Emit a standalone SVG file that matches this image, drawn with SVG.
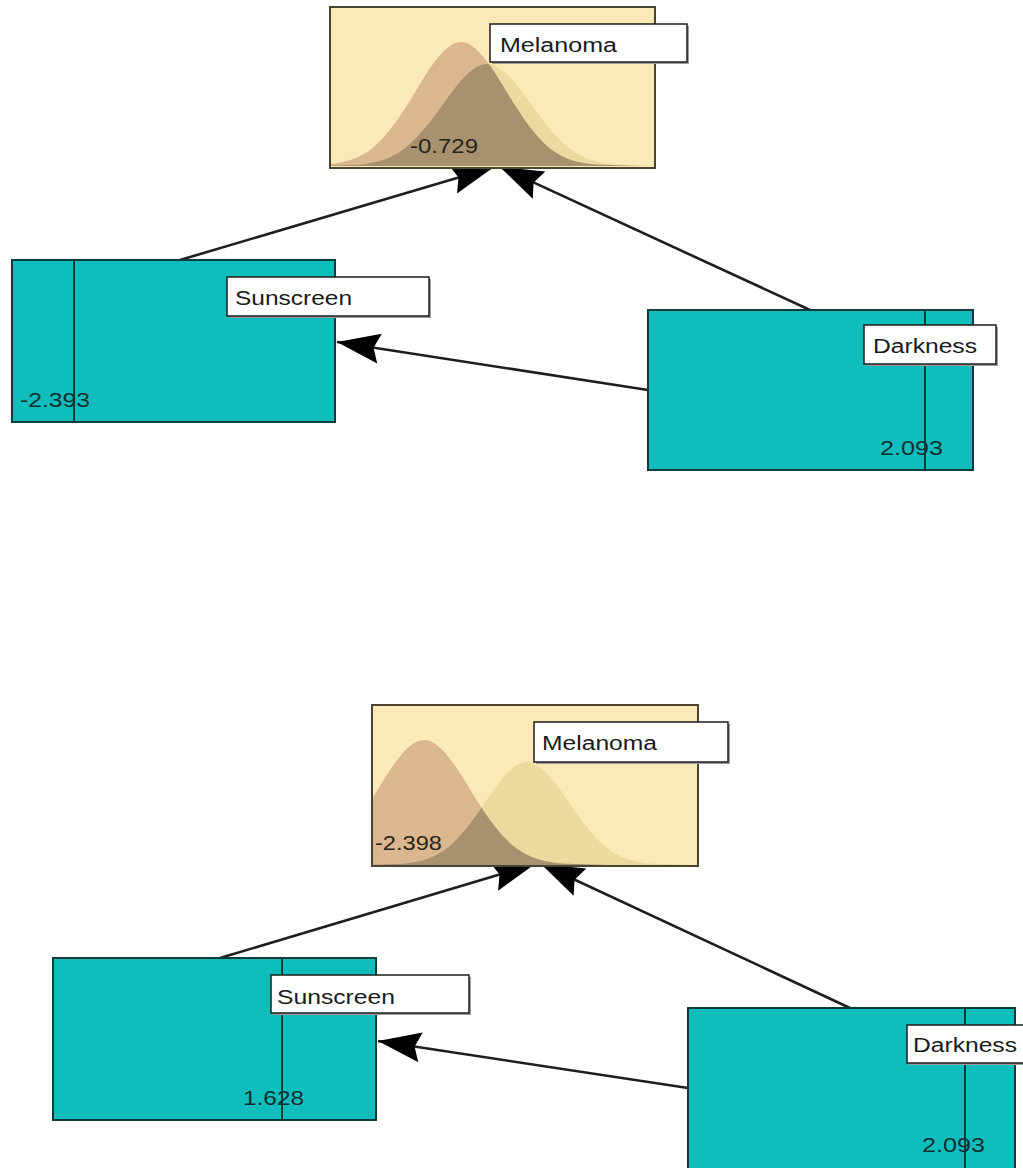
<svg xmlns="http://www.w3.org/2000/svg" xmlns:xlink="http://www.w3.org/1999/xlink" width="1023" height="1168" viewBox="0 0 1023 1168">
  <style>
    .teal { fill: #0fbdbd; stroke: #0e3c3c; stroke-width: 2; }
    .mel { fill: #fbe9b6; stroke: #4a4433; stroke-width: 2; }
    .cursor { stroke: #0b3c3c; stroke-width: 2; }
    .lab { fill: #ffffff; stroke: #1c1c1c; stroke-width: 1.5; }
    .shadow { fill: #9d9d9d; }
    .name { font-family: "Liberation Sans", Arial, sans-serif; font-size: 20px; fill: #1a1a1a; }
    .val { font-family: "Liberation Sans", Arial, sans-serif; font-size: 20px; fill: #0c3030; }
    .valm { font-family: "Liberation Sans", Arial, sans-serif; font-size: 20px; fill: #2a2418; }
    .edge { fill: none; stroke: #1e1e1e; stroke-width: 2.6; marker-end: url(#head); }
    .tan { fill: #dbb78f; }
    .pale { fill: #ecd9a0; }
    .dark { fill: #a8916f; }
  </style>
  <defs>
    <!-- unit normal density: x in sigmas, y = exp(-x^2/2) -->
    <path id="bell" d="M -4 0 L -3 0.0111 C -2.667 0.0222 -2.333 0.0451 -2 0.1353 C -1.667 0.2255 -1.333 0.4043 -1 0.6065 C -0.667 0.8087 -0.333 1 0 1 C 0.333 1 0.667 0.8087 1 0.6065 C 1.333 0.4043 1.667 0.2255 2 0.1353 C 2.333 0.0451 2.667 0.0222 3 0.0111 L 4 0 Z"/>
    <marker id="head" viewBox="-46 -17 48 34" refX="0" refY="0" markerWidth="48" markerHeight="34" markerUnits="userSpaceOnUse" orient="auto">
      <path d="M 0 0 L -43 -15 L -37 0 L -43 15 Z" fill="#000"/>
    </marker>
    <clipPath id="boxTop"><rect x="331" y="8" width="323" height="159"/></clipPath>
    <clipPath id="boxBot"><rect x="373" y="706" width="324" height="159"/></clipPath>
    <clipPath id="priorTop"><use xlink:href="#bell" transform="translate(461,166) scale(45,-124)"/></clipPath>
    <clipPath id="priorBot"><use xlink:href="#bell" transform="translate(424,865) scale(46,-125)"/></clipPath>
  </defs>

  <!-- connectors, drawn under the nodes -->
  <g id="connectors">
    <line class="edge" x1="180" y1="260" x2="494" y2="167"/>
    <line class="edge" x1="810" y1="310" x2="500" y2="167"/>
    <line class="edge" x1="648" y1="390" x2="337" y2="342"/>
    <line class="edge" x1="220" y1="958" x2="535" y2="864"/>
    <line class="edge" x1="850" y1="1008" x2="541" y2="864"/>
    <line class="edge" x1="688" y1="1088" x2="378" y2="1041"/>
  </g>

  <!-- first network state -->
  <g id="melanoma-1">
    <rect class="mel" x="330" y="7" width="325" height="161"/>
    <g clip-path="url(#boxTop)">
      <use class="tan" xlink:href="#bell" transform="translate(461,166) scale(45,-124)"/>
      <use class="pale" xlink:href="#bell" transform="translate(487,166) scale(44,-102)"/>
      <g clip-path="url(#priorTop)">
        <use class="dark" xlink:href="#bell" transform="translate(487,166) scale(44,-102)"/>
      </g>
    </g>
    <text class="valm" x="410" y="153" textLength="68" lengthAdjust="spacingAndGlyphs">-0.729</text>
    <rect class="shadow" x="492" y="26" width="197" height="38"/>
    <rect class="lab" x="490" y="24" width="197" height="38"/>
    <text class="name" x="500" y="52" textLength="117" lengthAdjust="spacingAndGlyphs">Melanoma</text>
  </g>

  <g id="sunscreen-1">
    <rect class="teal" x="12" y="260" width="323" height="162"/>
    <line class="cursor" x1="74" y1="261" x2="74" y2="421"/>
    <text class="val" x="20" y="407" textLength="70" lengthAdjust="spacingAndGlyphs">-2.393</text>
    <rect class="shadow" x="229" y="279" width="202" height="39"/>
    <rect class="lab" x="227" y="277" width="202" height="39"/>
    <text class="name" x="235" y="305" textLength="117" lengthAdjust="spacingAndGlyphs">Sunscreen</text>
  </g>

  <g id="darkness-1">
    <rect class="teal" x="648" y="310" width="325" height="160"/>
    <line class="cursor" x1="925" y1="311" x2="925" y2="469"/>
    <text class="val" x="880" y="455" textLength="63" lengthAdjust="spacingAndGlyphs">2.093</text>
    <rect class="shadow" x="866" y="327" width="132" height="39"/>
    <rect class="lab" x="864" y="325" width="132" height="39"/>
    <text class="name" x="873" y="353" textLength="104" lengthAdjust="spacingAndGlyphs">Darkness</text>
  </g>

  <!-- second network state -->
  <g id="melanoma-2">
    <rect class="mel" x="372" y="705" width="326" height="161"/>
    <g clip-path="url(#boxBot)">
      <use class="tan" xlink:href="#bell" transform="translate(424,865) scale(46,-125)"/>
      <use class="pale" xlink:href="#bell" transform="translate(527,865) scale(42,-103)"/>
      <g clip-path="url(#priorBot)">
        <use class="dark" xlink:href="#bell" transform="translate(527,865) scale(42,-103)"/>
      </g>
    </g>
    <text class="valm" x="375" y="850" textLength="67" lengthAdjust="spacingAndGlyphs">-2.398</text>
    <rect class="shadow" x="536" y="724" width="194" height="40"/>
    <rect class="lab" x="534" y="722" width="194" height="40"/>
    <text class="name" x="542" y="750" textLength="115" lengthAdjust="spacingAndGlyphs">Melanoma</text>
  </g>

  <g id="sunscreen-2">
    <rect class="teal" x="53" y="958" width="323" height="162"/>
    <line class="cursor" x1="282" y1="959" x2="282" y2="1119"/>
    <text class="val" x="243" y="1105" textLength="61" lengthAdjust="spacingAndGlyphs">1.628</text>
    <rect class="shadow" x="273" y="977" width="198" height="38"/>
    <rect class="lab" x="271" y="975" width="198" height="38"/>
    <text class="name" x="277" y="1004" textLength="118" lengthAdjust="spacingAndGlyphs">Sunscreen</text>
  </g>

  <g id="darkness-2">
    <rect class="teal" x="688" y="1008" width="327" height="162"/>
    <line class="cursor" x1="965" y1="1009" x2="965" y2="1168"/>
    <text class="val" x="922" y="1152" textLength="63" lengthAdjust="spacingAndGlyphs">2.093</text>
    <rect class="shadow" x="909" y="1027" width="130" height="38"/>
    <rect class="lab" x="907" y="1025" width="130" height="38"/>
    <text class="name" x="913" y="1052" textLength="104" lengthAdjust="spacingAndGlyphs">Darkness</text>
  </g>
</svg>
